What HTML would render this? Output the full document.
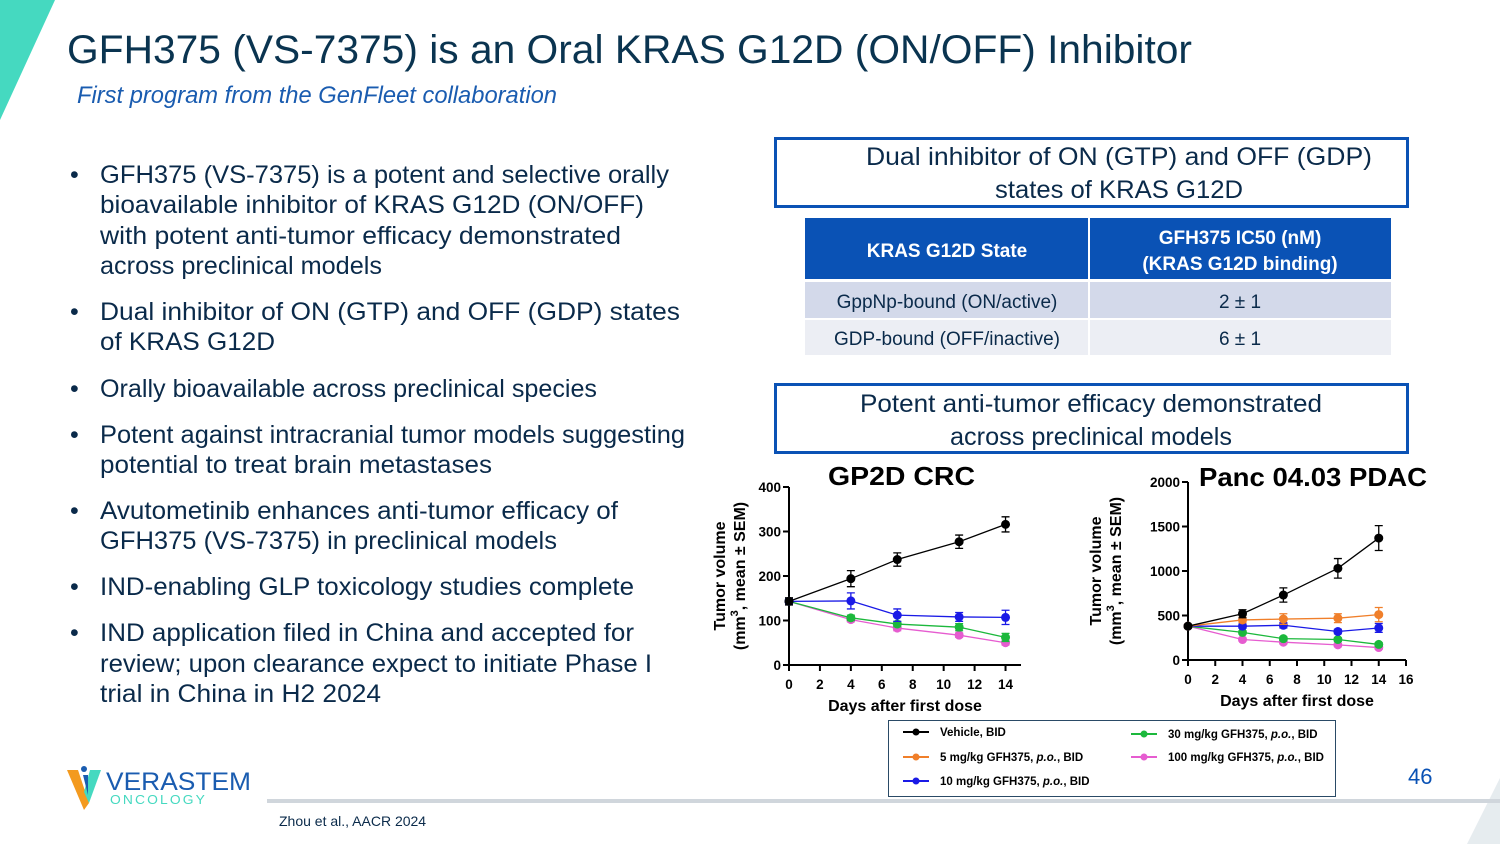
<!DOCTYPE html>
<html><head><meta charset="utf-8">
<style>
html,body{margin:0;padding:0;background:#fff;}
svg{display:block;font-family:"Liberation Sans",sans-serif;}
</style></head>
<body>
<svg id="s" width="1500" height="844" viewBox="0 0 1500 844" xmlns="http://www.w3.org/2000/svg">
<polygon points="0,0 55,0 0,120" fill="#45d9c0"/>
<polygon points="1500,778 1467,844 1500,844" fill="#e6ecef"/>
<text x="67" y="63" font-size="40" fill="#0a3450" textLength="1125" lengthAdjust="spacingAndGlyphs">GFH375 (VS-7375) is an Oral KRAS G12D (ON/OFF) Inhibitor</text>
<text x="77" y="103" font-size="24" font-style="italic" fill="#1a5cb0" textLength="480" lengthAdjust="spacingAndGlyphs">First program from the GenFleet collaboration</text>

<g fill="#0a2a4a" font-size="25">
<g>
<text x="70" y="183">•</text>
<text x="100" y="183" textLength="569" lengthAdjust="spacingAndGlyphs">GFH375 (VS-7375) is a potent and selective orally</text>
<text x="100" y="213" textLength="544" lengthAdjust="spacingAndGlyphs">bioavailable inhibitor of KRAS G12D (ON/OFF)</text>
<text x="100" y="244" textLength="521" lengthAdjust="spacingAndGlyphs">with potent anti-tumor efficacy demonstrated</text>
<text x="100" y="274" textLength="282" lengthAdjust="spacingAndGlyphs">across preclinical models</text></g>
<g>
<text x="70" y="320">•</text>
<text x="100" y="320" textLength="580" lengthAdjust="spacingAndGlyphs">Dual inhibitor of ON (GTP) and OFF (GDP) states</text>
<text x="100" y="350" textLength="175" lengthAdjust="spacingAndGlyphs">of KRAS G12D</text></g>
<g>
<text x="70" y="397">•</text>
<text x="100" y="397" textLength="497" lengthAdjust="spacingAndGlyphs">Orally bioavailable across preclinical species</text></g>
<g>
<text x="70" y="443">•</text>
<text x="100" y="443" textLength="585" lengthAdjust="spacingAndGlyphs">Potent against intracranial tumor models suggesting</text>
<text x="100" y="473" textLength="392" lengthAdjust="spacingAndGlyphs">potential to treat brain metastases</text></g>
<g>
<text x="70" y="519">•</text>
<text x="100" y="519" textLength="518" lengthAdjust="spacingAndGlyphs">Avutometinib enhances anti-tumor efficacy of</text>
<text x="100" y="549" textLength="457" lengthAdjust="spacingAndGlyphs">GFH375 (VS-7375) in preclinical models</text></g>
<g>
<text x="70" y="595">•</text>
<text x="100" y="595" textLength="534" lengthAdjust="spacingAndGlyphs">IND-enabling GLP toxicology studies complete</text></g>
<g>
<text x="70" y="641">•</text>
<text x="100" y="641" textLength="534" lengthAdjust="spacingAndGlyphs">IND application filed in China and accepted for</text>
<text x="100" y="672" textLength="552" lengthAdjust="spacingAndGlyphs">review; upon clearance expect to initiate Phase I</text>
<text x="100" y="702" textLength="281" lengthAdjust="spacingAndGlyphs">trial in China in H2 2024</text></g>
</g>

<g>
<rect x="775.5" y="138.5" width="632" height="68" fill="#fff" stroke="#0a52b5" stroke-width="3"/>
<text x="866" y="165" font-size="25" fill="#0a2a4a" textLength="506" lengthAdjust="spacingAndGlyphs">Dual inhibitor of ON (GTP) and OFF (GDP)</text>
<text x="995" y="198" font-size="25" fill="#0a2a4a" textLength="248" lengthAdjust="spacingAndGlyphs">states of KRAS G12D</text>
</g>

<g>
<rect x="805" y="218" width="586" height="61" fill="#0a52b5"/>
<rect x="805" y="282" width="586" height="36" fill="#d3d9ea"/>
<rect x="805" y="320" width="586" height="35" fill="#eceef4"/>
<line x1="1089" y1="218" x2="1089" y2="355" stroke="#fff" stroke-width="2"/>
<text x="947" y="257" font-size="19" font-weight="bold" fill="#fff" text-anchor="middle">KRAS G12D State</text>
<text x="1240" y="244" font-size="19" font-weight="bold" fill="#fff" text-anchor="middle">GFH375 IC50 (nM)</text>
<text x="1240" y="270" font-size="19" font-weight="bold" fill="#fff" text-anchor="middle">(KRAS G12D binding)</text>
<text x="947" y="308" font-size="19" fill="#0a2a4a" text-anchor="middle">GppNp-bound (ON/active)</text>
<text x="1240" y="308" font-size="19" fill="#0a2a4a" text-anchor="middle">2 ± 1</text>
<text x="947" y="345" font-size="19" fill="#0a2a4a" text-anchor="middle">GDP-bound (OFF/inactive)</text>
<text x="1240" y="345" font-size="19" fill="#0a2a4a" text-anchor="middle">6 ± 1</text>
</g>

<g>
<rect x="775.5" y="384.5" width="632" height="68" fill="#fff" stroke="#0a52b5" stroke-width="3"/>
<text x="860" y="412" font-size="25" fill="#0a2a4a" textLength="462" lengthAdjust="spacingAndGlyphs">Potent anti-tumor efficacy demonstrated</text>
<text x="950" y="445" font-size="25" fill="#0a2a4a" textLength="282" lengthAdjust="spacingAndGlyphs">across preclinical models</text>
</g>

<text x="828" y="485" font-size="26" font-weight="bold" fill="#000" textLength="147" lengthAdjust="spacingAndGlyphs">GP2D CRC</text>
<text x="1199" y="486" font-size="26" font-weight="bold" fill="#000" textLength="228" lengthAdjust="spacingAndGlyphs">Panc 04.03 PDAC</text>
<g id="c1"></g>
<g id="c2"></g>

<g id="legend">
<rect x="888.5" y="720.5" width="447" height="76" fill="#fff" stroke="#2a4a66" stroke-width="1"/>
</g>

<g>
<polygon points="67,770 78,770 89,803 84,810" fill="#f39a1f"/>
<polygon points="101,770 90,770 84,792 89,803" fill="#45d9c0"/>
<polygon points="83,775 88,775 88,795" fill="#1a5cb0"/>
<circle cx="84" cy="769" r="3" fill="#1a5cb0"/>
<text x="106" y="790" font-size="25" fill="#1a5cb0" textLength="145" lengthAdjust="spacingAndGlyphs">VERASTEM</text>
<text x="110" y="804" font-size="13" fill="#45d9c0" letter-spacing="2" textLength="97" lengthAdjust="spacingAndGlyphs">ONCOLOGY</text>
</g>
<rect x="267" y="799" width="1233" height="4" fill="#d0d6dc"/>
<text x="279" y="826" font-size="14" fill="#0a2a4a">Zhou et al., AACR 2024</text>
<text x="1408" y="784" font-size="22" fill="#0a52b5">46</text>
</svg>

<script>
const NS = "http://www.w3.org/2000/svg";
const days = [0, 4, 7, 11, 14];
const seriesNames = ["Vehicle, BID", "5 mg/kg GFH375, p.o., BID", "10 mg/kg GFH375, p.o., BID", "30 mg/kg GFH375, p.o., BID", "100 mg/kg GFH375, p.o., BID"];
const seriesColors = ["#000000", "#f07f2a", "#1a1ae6", "#1cb83c", "#e65cd0"];
const gp2dVehicle = [143, 194, 237, 277, 316];
const gp2dVehicleErr = [8, 18, 15, 15, 17];
const gp2dDose10 = [143, 144, 112, 108, 107];
const gp2dDose10Err = [6, 18, 14, 10, 16];
const gp2dDose30 = [143, 106, 92, 85, 62];
const gp2dDose30Err = [5, 6, 6, 8, 9];
const gp2dDose100 = [143, 102, 83, 67, 50];
const gp2dDose100Err = [5, 5, 6, 5, 5];
const gp2dYTicks = [0, 100, 200, 300, 400];
const gp2dXTicks = [0, 2, 4, 6, 8, 10, 12, 14];
const pancVehicle = [380, 520, 730, 1030, 1370];
const pancVehicleErr = [20, 45, 80, 110, 140];
const pancDose5 = [380, 450, 460, 470, 510];
const pancDose5Err = [20, 30, 60, 50, 80];
const pancDose10 = [380, 380, 390, 320, 360];
const pancDose10Err = [20, 25, 30, 25, 50];
const pancDose30 = [380, 310, 240, 230, 175];
const pancDose30Err = [20, 20, 20, 20, 20];
const pancDose100 = [380, 230, 200, 170, 140];
const pancDose100Err = [20, 20, 20, 20, 20];
const pancYTicks = [0, 500, 1000, 1500, 2000];
const pancXTicks = [0, 2, 4, 6, 8, 10, 12, 14, 16];

function mk(tag, attrs, parent) {
  const e = document.createElementNS(NS, tag);
  for (const k in attrs) e.setAttribute(k, attrs[k]);
  parent.appendChild(e);
  return e;
}

function drawChart(gid, cfg) {
  const g = document.getElementById(gid);
  const xs = d => cfg.x0 + (d - cfg.xmin) / (cfg.xmax - cfg.xmin) * (cfg.x1 - cfg.x0);
  const ys = v => cfg.y0 - (v - cfg.ymin) / (cfg.ymax - cfg.ymin) * (cfg.y0 - cfg.y1);
  const ax = mk("line", {x1: cfg.x0, y1: cfg.y0, x2: cfg.x1, y2: cfg.y0, stroke: "#000", "stroke-width": 2}, g);
  
  
  const ay = mk("line", {x1: cfg.x0, y1: cfg.y0, x2: cfg.x0, y2: cfg.y1, stroke: "#000", "stroke-width": 2}, g);
  
  
  cfg.yTicks.forEach(t => {
    const y = ys(t);
    mk("line", {x1: cfg.x0 - 6, y1: y, x2: cfg.x0, y2: y, stroke: "#000", "stroke-width": 2}, g);
    const tx = mk("text", {x: cfg.x0 - 8, y: y + 5, "font-size": 13.5, "font-weight": "bold", "text-anchor": "end"}, g);
    tx.textContent = t;
    
    
  });
  cfg.xTicks.forEach(t => {
    const x = xs(t);
    mk("line", {x1: x, y1: cfg.y0, x2: x, y2: cfg.y0 + 6, stroke: "#000", "stroke-width": 2}, g);
    const tx = mk("text", {x: x, y: cfg.y0 + 24, "font-size": 13.5, "font-weight": "bold", "text-anchor": "middle"}, g);
    tx.textContent = t;
    
    
  });
  const xt = mk("text", {x: (cfg.x0 + cfg.x1) / 2, y: cfg.y0 + 46, "font-size": 16, "font-weight": "bold", "text-anchor": "middle"}, g);
  xt.textContent = "Days after first dose";
  
  
  const cy = (cfg.y0 + cfg.y1) / 2;
  const yt = mk("text", {transform: `translate(${cfg.ytx},${cy}) rotate(-90)`, "font-size": 16, "font-weight": "bold", "text-anchor": "middle"}, g);
  yt.textContent = "Tumor volume";
  
  
  const yt2 = mk("text", {transform: `translate(${cfg.ytx + 20},${cy}) rotate(-90)`, "font-size": 16, "font-weight": "bold", "text-anchor": "middle"}, g);
  yt2.innerHTML = '(mm<tspan dy="-7" font-size="11">3</tspan><tspan dy="7">, mean ± SEM)</tspan>';
  
  
  cfg.series.forEach(s => {
    const sg = mk("g", {}, g);
    
    
    const pts = days.map((d, i) => xs(d) + "," + ys(s.vals[i])).join(" ");
    mk("polyline", {points: pts, fill: "none", stroke: s.color, "stroke-width": 1.3}, sg);
    days.forEach((d, i) => {
      const x = xs(d), v = s.vals[i], e = s.err[i];
      const eb = mk("path", {d: `M${x},${ys(v - e)}V${ys(v + e)}M${x - 4},${ys(v - e)}h8M${x - 4},${ys(v + e)}h8`, stroke: s.color, "stroke-width": 1.3, fill: "none"}, sg);
      
      
      const c = mk("circle", {cx: x, cy: ys(v), r: 4.5, fill: s.color}, sg);
      
      
    });
  });
}

drawChart("c1", {x0: 789, x1: 1021, xmin: 0, xmax: 15, y0: 665, y1: 487, ymin: 0, ymax: 400, ytx: 725,
  yTicks: gp2dYTicks, xTicks: gp2dXTicks,
  series: [
    {key: "dose100", vals: gp2dDose100, err: gp2dDose100Err, color: seriesColors[4]},
    {key: "dose30", vals: gp2dDose30, err: gp2dDose30Err, color: seriesColors[3]},
    {key: "dose10", vals: gp2dDose10, err: gp2dDose10Err, color: seriesColors[2]},
    {key: "vehicle", vals: gp2dVehicle, err: gp2dVehicleErr, color: seriesColors[0]}
  ]});
drawChart("c2", {x0: 1188, x1: 1406, xmin: 0, xmax: 16, y0: 660, y1: 482, ymin: 0, ymax: 2000, ytx: 1101,
  yTicks: pancYTicks, xTicks: pancXTicks,
  series: [
    {key: "dose100", vals: pancDose100, err: pancDose100Err, color: seriesColors[4]},
    {key: "dose30", vals: pancDose30, err: pancDose30Err, color: seriesColors[3]},
    {key: "dose10", vals: pancDose10, err: pancDose10Err, color: seriesColors[2]},
    {key: "dose5", vals: pancDose5, err: pancDose5Err, color: seriesColors[1]},
    {key: "vehicle", vals: pancVehicle, err: pancVehicleErr, color: seriesColors[0]}
  ]});

const lg = document.getElementById("legend");
const legPos = [[903, 732], [903, 757], [903, 781], [1131, 734], [1131, 757]];
seriesNames.forEach((n, i) => {
  const eg = mk("g", {}, lg);
  
  
  const [x, y] = legPos[i];
  mk("line", {x1: x, y1: y, x2: x + 26, y2: y, stroke: seriesColors[i], "stroke-width": 2}, eg);
  mk("circle", {cx: x + 13, cy: y, r: 3.5, fill: seriesColors[i]}, eg);
  const t = mk("text", {x: x + 37, y: y + 4, "font-size": 11.5, "font-weight": "bold", fill: "#000"}, eg);
  t.innerHTML = n.replace("p.o.", '<tspan font-style="italic">p.o.</tspan>');
});
</script>
</body></html>
